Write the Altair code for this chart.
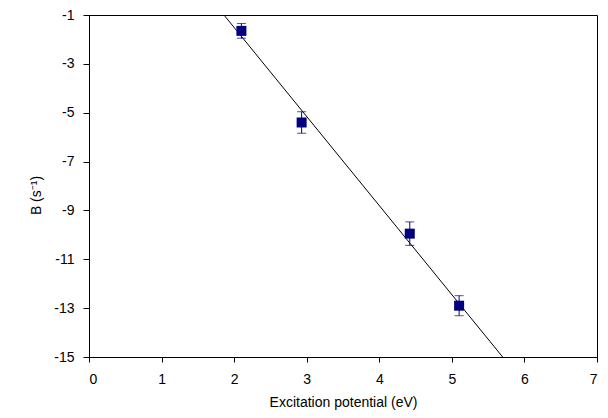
import altair as alt
import pandas as pd

# Data
x_vals = [2.10, 2.93, 4.42, 5.10]
b_vals = [-1.65, -5.40, -9.95, -12.90]
b_err = [0.30, 0.44, 0.48, 0.41]

fit_x = [1.86, 5.70]
fit_y = [-1.0, -15.0]

y_ticks = [-1, -3, -5, -7, -9, -11, -13, -15]
x_ticks = [0, 1, 2, 3, 4, 5, 6, 7]

pts = pd.DataFrame({
    "x": x_vals,
    "b": b_vals,
    "lo": [b - e for b, e in zip(b_vals, b_err)],
    "hi": [b + e for b, e in zip(b_vals, b_err)],
})
fit = pd.DataFrame({"x": fit_x, "y": fit_y})

FONT = "Liberation Sans"
NAVY = "#000080"

xs = alt.Scale(domain=[0, 7], nice=False, zero=False)
ys = alt.Scale(domain=[-15, -1], nice=False, zero=False)

xaxis = alt.Axis(values=x_ticks, title="Excitation potential (eV)", grid=False,
                 tickSize=5, labelPadding=10, titlePadding=9,
                 labelExpr="'' + datum.value")
yaxis = alt.Axis(values=y_ticks, title="B (s⁻¹)", grid=False,
                 tickSize=6, labelPadding=9, titlePadding=10, titleY=180,
                 labelExpr="'' + datum.value")

line = alt.Chart(fit).mark_line(color="black", strokeWidth=1).encode(
    x=alt.X("x:Q", scale=xs, axis=xaxis),
    y=alt.Y("y:Q", scale=ys, axis=yaxis),
)

rules = alt.Chart(pts).mark_rule(color=NAVY, strokeWidth=1).encode(
    x=alt.X("x:Q", scale=xs),
    y=alt.Y("lo:Q", scale=ys),
    y2="hi:Q",
)
cap_lo = alt.Chart(pts).mark_tick(color=NAVY, orient="horizontal", size=9, thickness=1).encode(
    x=alt.X("x:Q", scale=xs),
    y=alt.Y("lo:Q", scale=ys),
)
cap_hi = alt.Chart(pts).mark_tick(color=NAVY, orient="horizontal", size=9, thickness=1).encode(
    x=alt.X("x:Q", scale=xs),
    y=alt.Y("hi:Q", scale=ys),
)
points = alt.Chart(pts).mark_square(color=NAVY, size=100, opacity=1).encode(
    x=alt.X("x:Q", scale=xs),
    y=alt.Y("b:Q", scale=ys),
)

chart = alt.layer(line, rules, cap_lo, cap_hi, points).properties(
    width=508, height=342,
    background="white",
    autosize=alt.AutoSizeParams(type="none"),
    padding={"left": 81, "top": 7, "right": 3, "bottom": 59},
).configure_view(
    stroke="black", strokeWidth=1
).configure_axis(
    domainColor="black", tickColor="black", labelColor="black", titleColor="black",
    labelFont=FONT, titleFont=FONT, labelFontSize=14, titleFontSize=14,
    titleFontWeight="normal", domainWidth=1, tickWidth=1,
)

chart.save("out.html", embed_options={"renderer": "svg", "actions": False})
